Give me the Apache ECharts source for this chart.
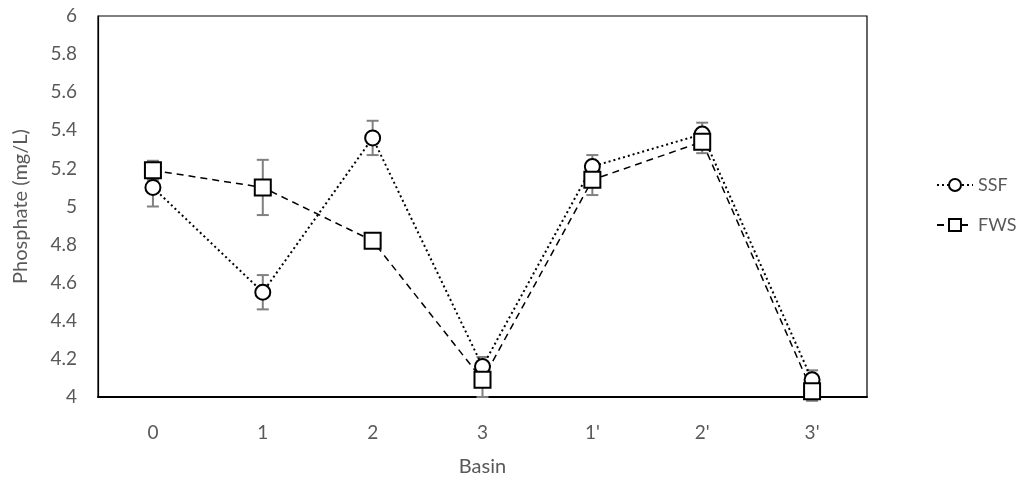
<!DOCTYPE html>
<html><head><meta charset="utf-8">
<script src="https://cdn.jsdelivr.net/npm/echarts@6/dist/echarts.min.js"></script>
<style>html,body{margin:0;padding:0;background:#fff}#c{width:1024px;height:482px}</style>
</head><body><div id="c"></div>
<script>
const categories = ["0","1","2","3","1'","2'","3'"];
const ssfValues = [5.10, 4.55, 5.36, 4.16, 5.21, 5.38, 4.09];
const ssfErrors = [0.10, 0.09, 0.09, 0.05, 0.06, 0.06, 0.05];
const fwsValues = [5.19, 5.10, 4.82, 4.09, 5.14, 5.34, 4.03];
const fwsErrors = [0.05, 0.145, 0.03, 0.09, 0.08, 0.06, 0.05];
const yTicks = {min: 4, max: 6, interval: 0.2};

const font = 'Lato';
const textColor = '#595959';

function errData(vals, errs){
  return vals.map((v,i)=>[i, v-errs[i], v+errs[i]]);
}
function errRender(params, api){
  const x = api.value(0);
  const lo = api.coord([x, api.value(1)]);
  const hi = api.coord([x, api.value(2)]);
  const hw = 6;
  const style = {stroke:'#808080', lineWidth:2, fill:null};
  return {type:'group', children:[
    {type:'line', shape:{x1:lo[0],y1:lo[1],x2:hi[0],y2:hi[1]}, style},
    {type:'line', shape:{x1:lo[0]-hw,y1:lo[1],x2:lo[0]+hw,y2:lo[1]}, style},
    {type:'line', shape:{x1:hi[0]-hw,y1:hi[1],x2:hi[0]+hw,y2:hi[1]}, style}
  ]};
}

const chart = echarts.init(document.getElementById('c'));
chart.setOption({
  animation:false,
  grid:{left:98, right:157, top:16, bottom:84, show:true, borderColor:'#000', borderWidth:1.2},
  legend:{
    orient:'vertical', left:931, top:171, itemGap:22, itemWidth:36, itemHeight:15,
    data:['SSF','FWS'],
    textStyle:{fontFamily:font, fontSize:18, color:textColor}
  },
  xAxis:{
    type:'category', data:categories, boundaryGap:true,
    name:'Basin', nameLocation:'middle', nameGap:60,
    nameTextStyle:{fontFamily:font, fontSize:20, color:textColor},
    axisLine:{lineStyle:{color:'#000', width:2}},
    axisTick:{show:false},
    axisLabel:{fontFamily:font, fontSize:19, color:textColor, margin:26}
  },
  yAxis:{
    type:'value', min:yTicks.min, max:yTicks.max, interval:yTicks.interval,
    name:'Phosphate (mg/L)', nameLocation:'middle', nameGap:67,
    nameTextStyle:{fontFamily:font, fontSize:20, color:textColor},
    axisLine:{show:true, lineStyle:{color:'#000', width:1.2}},
    axisTick:{show:false},
    splitLine:{show:false},
    axisLabel:{fontFamily:font, fontSize:19, color:textColor, margin:21,
      formatter:v=>String(Math.round(v*10)/10)}
  },
  series:[
    {type:'custom', name:'SSF err', renderItem:errRender, data:errData(ssfValues, ssfErrors), encode:{x:0,y:[1,2]}, z:1, silent:true},
    {type:'custom', name:'FWS err', renderItem:errRender, data:errData(fwsValues, fwsErrors), encode:{x:0,y:[1,2]}, z:1, silent:true},
    {type:'line', name:'SSF', data:ssfValues, symbol:'emptyCircle', symbolSize:15,
      lineStyle:{color:'#000', width:2, type:[2,3]},
      itemStyle:{color:'#000', borderColor:'#000', borderWidth:1.6}, z:3},
    {type:'line', name:'FWS', data:fwsValues, symbol:'emptyRect', symbolSize:16,
      lineStyle:{color:'#000', width:1.5, type:[7,5]},
      itemStyle:{color:'#000', borderColor:'#000', borderWidth:1.6}, z:3}
  ]
});
</script></body></html>
